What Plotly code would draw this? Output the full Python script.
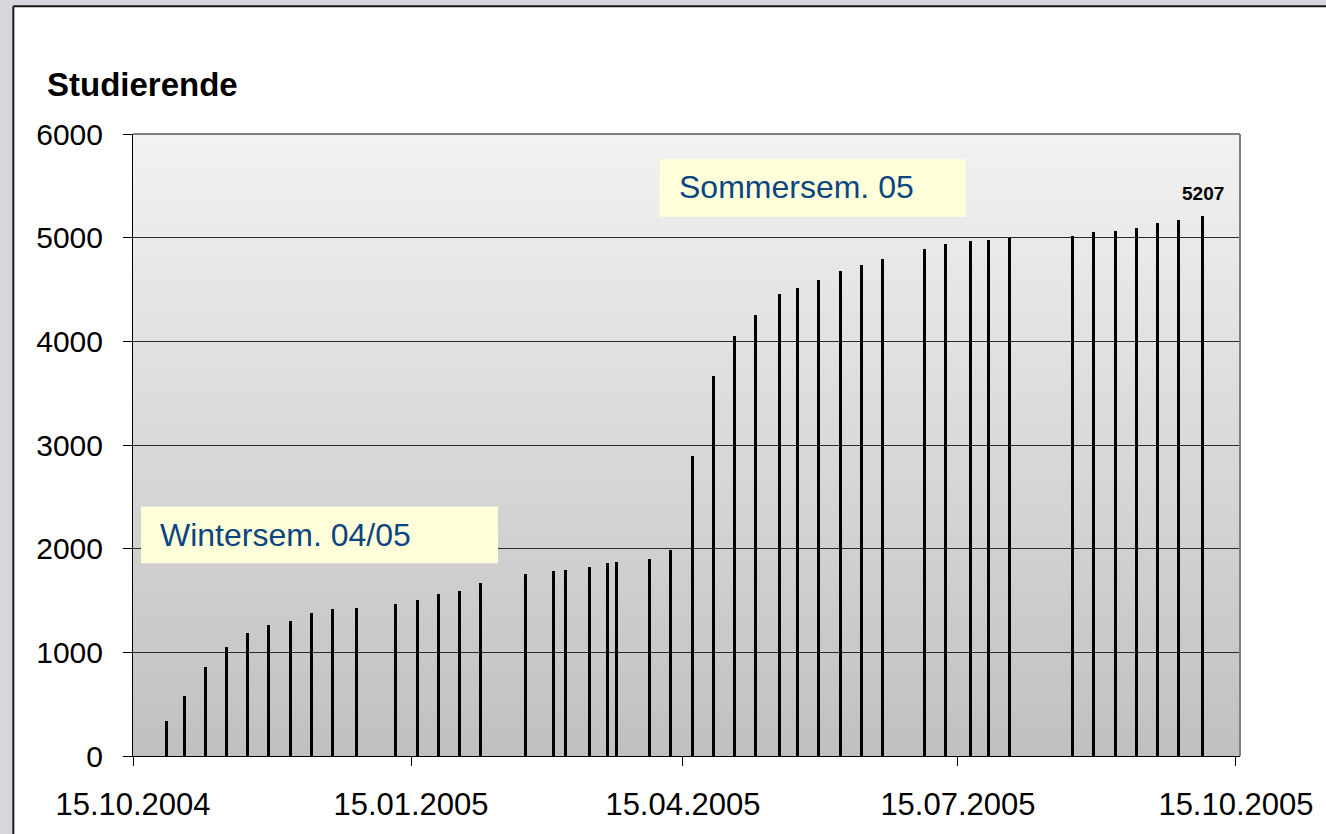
import plotly.graph_objects as go

# ---- data ----
dates = [
    "2004-10-26", "2004-11-01", "2004-11-08", "2004-11-15", "2004-11-22", "2004-11-29",
    "2004-12-06", "2004-12-13", "2004-12-20", "2004-12-28",
    "2005-01-10", "2005-01-17", "2005-01-24", "2005-01-31", "2005-02-07",
    "2005-02-22", "2005-03-03", "2005-03-07", "2005-03-15", "2005-03-21", "2005-03-24",
    "2005-04-04", "2005-04-11", "2005-04-18", "2005-04-25", "2005-05-02", "2005-05-09",
    "2005-05-17", "2005-05-23", "2005-05-30", "2005-06-06", "2005-06-13", "2005-06-20",
    "2005-07-04", "2005-07-11", "2005-07-19", "2005-07-25", "2005-08-01",
    "2005-08-22", "2005-08-29", "2005-09-05", "2005-09-12", "2005-09-19", "2005-09-26",
    "2005-10-04",
]
studierende = [
    333, 581, 858, 1056, 1191, 1263,
    1307, 1378, 1420, 1432,
    1465, 1507, 1567, 1596, 1667,
    1755, 1784, 1799, 1828, 1861, 1871,
    1900, 1986, 2891, 3661, 4051, 4252,
    4453, 4510, 4596, 4682, 4737, 4797,
    4892, 4937, 4966, 4978, 4994,
    5019, 5052, 5064, 5093, 5138, 5166,
    5207,
]
tick_vals = ["2004-10-15", "2005-01-15", "2005-04-15", "2005-07-15", "2005-10-15"]
tick_text = ["15.10.2004", "15.01.2005", "15.04.2005", "15.07.2005", "15.10.2005"]
y_title = "Studierende"
label_winter = "Wintersem. 04/05"
label_sommer = "Sommersem. 05"

# ---- layout geometry (pixels) ----
W, H = 1326, 834
L, R, T, B = 133, 83, 134, 77
PW, PH = W - L - R, H - T - B
FONT = "Liberation Sans, Arial, sans-serif"


def px(x):
    return (x - L) / PW


def py(y):
    return (H - B - y) / PH


fig = go.Figure()
fig.add_trace(go.Bar(
    x=dates, y=studierende,
    width=86400000 * 1.0,
    marker=dict(color="black", line=dict(width=0)),
    showlegend=False,
))

shapes = []
# white frame (fill) + left/top frame lines
shapes.append(dict(type="rect", xref="paper", yref="paper",
                   x0=px(13), x1=px(1400), y0=py(900), y1=py(6),
                   fillcolor="white", line=dict(width=0), layer="below"))
shapes.append(dict(type="line", xref="paper", yref="paper",
                   x0=px(13), x1=px(1400), y0=py(6), y1=py(6),
                   line=dict(color="#1a1a1a", width=2), layer="below"))
shapes.append(dict(type="line", xref="paper", yref="paper",
                   x0=px(13), x1=px(13), y0=py(900), y1=py(6),
                   line=dict(color="#1a1a1a", width=2), layer="below"))
# gradient plot background
n = 120
c_top = (242, 242, 242)
c_bot = (192, 192, 192)
for i in range(n):
    f = (i + 0.5) / n
    c = tuple(int(round(c_bot[k] + (c_top[k] - c_bot[k]) * f)) for k in range(3))
    shapes.append(dict(type="rect", xref="paper", yref="paper",
                       x0=0, x1=1, y0=i / n, y1=(i + 1) / n + 0.002,
                       fillcolor="rgb(%d,%d,%d)" % c, line=dict(width=0), layer="below"))
# plot area top/right border
shapes.append(dict(type="line", xref="paper", yref="paper", x0=0, x1=1, y0=1, y1=1,
                   line=dict(color="#7f7f7f", width=2), layer="above"))
shapes.append(dict(type="line", xref="paper", yref="paper", x0=1, x1=1, y0=0, y1=1,
                   line=dict(color="#7f7f7f", width=2), layer="above"))
# label boxes
shapes.append(dict(type="rect", xref="paper", yref="paper",
                   x0=px(141), x1=px(499), y0=py(564), y1=py(507),
                   fillcolor="#FFFFDA", line=dict(width=0), layer="above"))
shapes.append(dict(type="rect", xref="paper", yref="paper",
                   x0=px(661), x1=px(968), y0=py(217), y1=py(159),
                   fillcolor="#FFFFDA", line=dict(width=0), layer="above"))

annotations = [
    dict(text="<b>%s</b>" % y_title, xref="paper", yref="paper", x=px(45), y=py(84),
         xanchor="left", yanchor="middle", showarrow=False,
         font=dict(family=FONT, size=33, color="black")),
    dict(text=label_winter, xref="paper", yref="paper", x=px(158), y=py(536),
         xanchor="left", yanchor="middle", showarrow=False,
         font=dict(family=FONT, size=32, color="#0B4582")),
    dict(text=label_sommer, xref="paper", yref="paper", x=px(678), y=py(187),
         xanchor="left", yanchor="middle", showarrow=False,
         font=dict(family=FONT, size=32, color="#0B4582")),
    dict(text="<b>%d</b>" % studierende[-1], x=dates[-1], y=studierende[-1],
         xanchor="center", yanchor="bottom", yshift=10, showarrow=False,
         font=dict(family=FONT, size=19, color="black")),
]

fig.update_layout(
    width=W, height=H,
    margin=dict(l=L, r=R, t=T, b=B, pad=0),
    paper_bgcolor="#d5d7dd",
    plot_bgcolor="#d0d0d0",
    shapes=shapes,
    annotations=annotations,
    bargap=0,
    xaxis=dict(
        type="date",
        range=["2004-10-15", "2005-10-16 08:00"],
        tickvals=tick_vals, ticktext=tick_text,
        showgrid=False, zeroline=False,
        showline=True, linecolor="black", linewidth=1,
        ticks="outside", ticklen=9, tickcolor="black", tickwidth=1,
        ticklabelstandoff=12,
        tickfont=dict(family=FONT, size=31, color="black"),
    ),
    yaxis=dict(
        range=[0, 6000], dtick=1000, tick0=0,
        showgrid=True, gridcolor="#2a2a2a", gridwidth=1,
        zeroline=False,
        showline=True, linecolor="black", linewidth=1,
        ticks="outside", ticklen=9, tickcolor="black", tickwidth=1,
        ticklabelstandoff=14,
        tickfont=dict(family=FONT, size=30, color="black"),
    ),
)

fig.write_html(
    "out.html",
    config={"displayModeBar": False},
    post_script=(
        "document.body.style.margin='0';document.body.style.padding='0';"
        "document.body.style.overflow='hidden';"
        "document.documentElement.style.overflow='hidden';"
    ),
)
